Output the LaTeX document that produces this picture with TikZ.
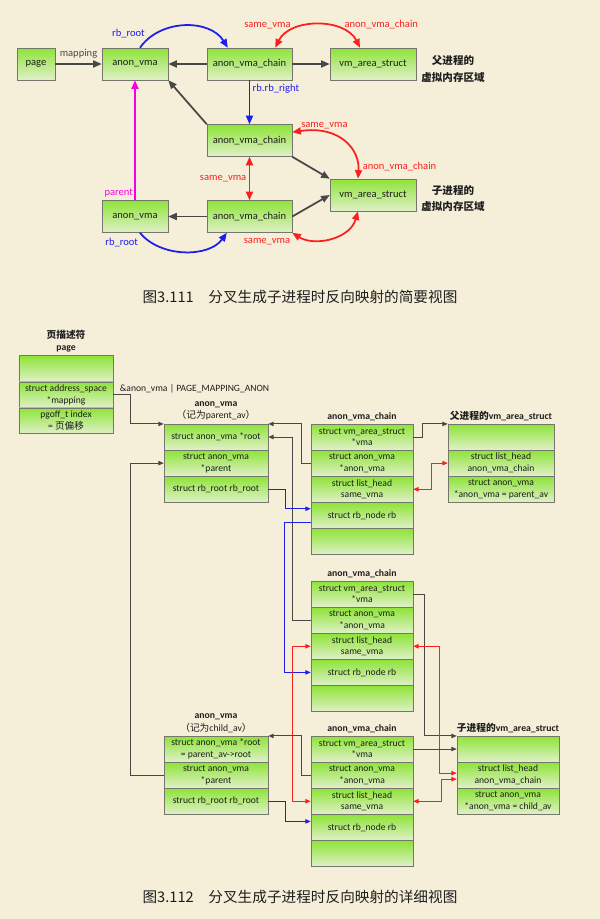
\documentclass[tikz,border=0pt]{standalone}
\usepackage{fontspec}
\setmainfont{Carlito}
\newfontfamily\cjk{Noto Sans CJK SC}
\usetikzlibrary{arrows.meta,positioning}
\definecolor{paper}{RGB}{245,239,217}
\definecolor{gtop}{RGB}{142,228,56}
\definecolor{gbot}{RGB}{224,240,200}
\definecolor{frame}{RGB}{118,118,108}
\definecolor{ink}{RGB}{72,72,72}
\definecolor{txt}{RGB}{30,30,30}
\definecolor{lblue}{RGB}{30,30,235}
\definecolor{lred}{RGB}{250,32,32}
\definecolor{lmag}{RGB}{245,0,225}
\tikzset{
  blk/.style={draw=frame,top color=gtop,bottom color=gbot,text=txt,align=center,font=\fontsize{9}{11}\selectfont,minimum height=9.6mm,inner sep=1pt},
  fld/.style={draw=frame,top color=gtop,bottom color=gbot,text=txt,align=center,font=\fontsize{8.2}{10}\selectfont,minimum width=30.6mm,minimum height=7.7mm,inner sep=0pt},
  ttl/.style={align=center,text=txt,font=\fontsize{8.3}{10.5}\selectfont\bfseries,inner sep=1pt},
  cn/.style={align=center,text=txt,font=\cjk\bfseries\fontsize{9}{14.5}\selectfont},
  capt/.style={text=txt,font=\cjk\fontsize{12.5}{15}\selectfont},
  lbl/.style={font=\fontsize{9}{11}\selectfont,inner sep=1pt},
  arr/.style={color=ink,line width=1.5pt,-{Triangle[length=2.6mm,width=2.1mm]}},
  barr/.style={arr,color=lblue},
  marr/.style={arr,color=lmag},
  rarr/.style={arr,color=lred,{Triangle[length=2.6mm,width=2.1mm]}-{Triangle[length=2.6mm,width=2.1mm]}},
  tarr/.style={color=ink,line width=0.8pt,-{Triangle[length=1.6mm,width=1.3mm]}},
  btarr/.style={tarr,color=lblue,line width=0.9pt},
  rtarr/.style={tarr,color=lred,{Triangle[length=1.6mm,width=1.3mm]}-{Triangle[length=1.6mm,width=1.3mm]}}
}
\begin{document}
\begin{tikzpicture}[x=0.3mm,y=-0.3mm]
\fill[paper] (0,0) rectangle (600,919);
\node[blk,minimum width=11.4mm] (pg) at (36,64) {page};
\node[blk,minimum width=19.8mm] (av) at (135,64) {anon\_vma};
\node[blk,minimum width=25.5mm] (avc) at (249.5,64) {anon\_vma\_chain};
\node[blk,minimum width=25.8mm] (vma) at (373,64) {vm\_area\_struct};
\node[cn] (pcn) at (453,68.5) {父进程的\\虚拟内存区域};
\node[blk,minimum width=25.5mm] (avc2) at (249.5,140.5) {anon\_vma\_chain};
\node[blk,minimum width=25.8mm] (cvma) at (373,195) {vm\_area\_struct};
\node[cn] (ccn) at (453,198.5) {子进程的\\虚拟内存区域};
\node[blk,minimum width=19.8mm] (cav) at (135,216.5) {anon\_vma};
\node[blk,minimum width=25.5mm] (cavc) at (249.5,216.5) {anon\_vma\_chain};
\draw[arr] (pg) -- node[lbl,above=3.5pt]{mapping} (av);
\draw[arr] (avc) -- (av);
\draw[arr] (avc) -- (vma);
\draw[barr] ([xshift=1.5mm]av.north) .. controls +(20,-29) and +(-18,-29) .. node[lbl,pos=0.1,anchor=south east]{rb\_root} ([xshift=-6.5mm]avc.north);
\draw[rarr] ([xshift=7.7mm]avc.north) .. controls +(15,-30) and +(-15,-30) .. node[lbl,pos=0.25,anchor=south east]{same\_vma} node[lbl,pos=0.75,anchor=south west]{anon\_vma\_chain} ([xshift=-3.9mm]vma.north);
\draw[barr] (avc.south) -- node[lbl,pos=0.2,right=1pt]{rb.rb\_right} (avc2.north);
\draw[arr] (avc2.north west) -- (av.south east);
\draw[arr] (avc2.south east) -- (cvma.north west);
\draw[rarr] ([yshift=2.5mm]avc2.east) .. controls +(48,-7) and +(2,-29) .. node[lbl,pos=0.05,anchor=south west]{same\_vma} node[lbl,pos=0.85,anchor=west,xshift=1mm]{anon\_vma\_chain} ([xshift=-4.5mm]cvma.north);
\draw[rarr] (avc2.south) -- node[lbl,left=1pt]{same\_vma} (cavc.north);
\draw[marr] (cav.north) -- node[lbl,pos=0,anchor=south east,yshift=1pt]{parent} (av.south);
\draw[arr] (cavc) -- (cav);
\draw[arr] (cavc.east) -- (cvma.west);
\draw[barr] ([xshift=1.5mm]cav.south) .. controls +(20,25) and +(-18,25) .. node[lbl,pos=0,anchor=north east,yshift=-1mm]{rb\_root} ([xshift=-6.8mm]cavc.south);
\draw[rarr] (cavc.south east) .. controls +(22,14) and +(-8,28) .. node[lbl,pos=0,anchor=north east,yshift=-1mm]{same\_vma} ([xshift=-4.5mm]cvma.south);
\node[capt] (cap1) at (300,297) {图3.111\hspace{1em}分叉生成子进程时反向映射的简要视图};
\node[fld,minimum width=28.2mm] (pg1) at (66,368.5) {};
\node[fld,minimum width=28.2mm,below=0pt of pg1] (pg2) {struct address\_space\\*mapping};
\node[fld,minimum width=28.2mm,below=0pt of pg2] (pg3) {pgoff\_t index\\= {\cjk 页偏移}};
\node[ttl,above=0.6mm of pg1] (pgt) {{\cjk 页描述符}\\page};
\node[fld,minimum width=31.2mm] (pa1) at (216,437) {struct anon\_vma *root};
\node[fld,minimum width=31.2mm,below=0pt of pa1] (pa2) {struct anon\_vma\\*parent};
\node[fld,minimum width=31.2mm,below=0pt of pa2] (pa3) {struct rb\_root rb\_root};
\node[ttl,above=0.6mm of pa1] (pat) {anon\_vma\\\mdseries{\cjk （记为}parent\_av{\cjk ）}};
\node[fld] (c1a) at (362,437) {struct vm\_area\_struct\\*vma};
\node[fld,below=0pt of c1a] (c1b) {struct anon\_vma\\*anon\_vma};
\node[fld,below=0pt of c1b] (c1c) {struct list\_head\\same\_vma};
\node[fld,below=0pt of c1c] (c1d) {struct rb\_node rb};
\node[fld,below=0pt of c1d] (c1e) {};
\node[ttl,above=0.6mm of c1a] (c1t) {anon\_vma\_chain};
\node[fld,minimum width=31.8mm] (pv1) at (501,437) {};
\node[fld,minimum width=31.8mm,below=0pt of pv1] (pv2) {struct list\_head\\anon\_vma\_chain};
\node[fld,minimum width=31.8mm,below=0pt of pv2] (pv3) {struct anon\_vma\\*anon\_vma = parent\_av};
\node[ttl,above=0.6mm of pv1] (pvt) {{\cjk 父进程的}vm\_area\_struct};
\node[fld] (c2a) at (362,594) {struct vm\_area\_struct\\*vma};
\node[fld,below=0pt of c2a] (c2b) {struct anon\_vma\\*anon\_vma};
\node[fld,below=0pt of c2b] (c2c) {struct list\_head\\same\_vma};
\node[fld,below=0pt of c2c] (c2d) {struct rb\_node rb};
\node[fld,below=0pt of c2d] (c2e) {};
\node[ttl,above=0.6mm of c2a] (c2t) {anon\_vma\_chain};
\node[fld,minimum width=31.2mm] (ca1) at (216,749) {struct anon\_vma *root\\= parent\_av->root};
\node[fld,minimum width=31.2mm,below=0pt of ca1] (ca2) {struct anon\_vma\\*parent};
\node[fld,minimum width=31.2mm,below=0pt of ca2] (ca3) {struct rb\_root rb\_root};
\node[ttl,above=0.6mm of ca1] (cat) {anon\_vma\\\mdseries{\cjk （记为}child\_av{\cjk ）}};
\node[fld] (c3a) at (362,749) {struct vm\_area\_struct\\*vma};
\node[fld,below=0pt of c3a] (c3b) {struct anon\_vma\\*anon\_vma};
\node[fld,below=0pt of c3b] (c3c) {struct list\_head\\same\_vma};
\node[fld,below=0pt of c3c] (c3d) {struct rb\_node rb};
\node[fld,below=0pt of c3d] (c3e) {};
\node[ttl,above=0.6mm of c3a] (c3t) {anon\_vma\_chain};
\node[fld] (cv1) at (508,749) {};
\node[fld,below=0pt of cv1] (cv2) {struct list\_head\\anon\_vma\_chain};
\node[fld,below=0pt of cv2] (cv3) {struct anon\_vma\\*anon\_vma = child\_av};
\node[ttl,above=0.6mm of cv1] (cvt) {{\cjk 子进程的}vm\_area\_struct};
\draw[tarr] (pg2.east) -- node[lbl,pos=0,anchor=south west,xshift=1.5mm,font=\fontsize{8.2}{9}\selectfont,text=txt]{\&anon\_vma | PAGE\_MAPPING\_ANON} ++(17,0) |- (pa1.north west);
\draw[tarr] (c1a.east) -- ++(9,0) |- (pv1.north west);
\draw[rtarr] (c1c.east) -- ++(18,0) |- (pv2.west);
\draw[tarr] (c1b.west) -- ++(-9,0) |- (pa1.north east);
\draw[tarr] (c2b.west) -- ++(-18,0) |- (pa1.east);
\draw[btarr] (pa3.east) -- ++(17,0) |- ([yshift=2mm]c1d.west);
\draw[btarr] ([yshift=-2mm]c1d.west) -- ++(-26,0) |- (c2d.west);
\draw[tarr] (c2a.east) -- ++(11,0) |- (cv1.north west);
\draw[rtarr] (c2c.east) -- ++(26,0) |- ([yshift=0.6mm]cv2.west);
\draw[rtarr] (c3c.east) -- ++(28,0) |- ([yshift=-1.2mm]cv2.west);
\draw[rtarr] (c2c.west) -- ++(-18,0) |- (c3c.west);
\draw[tarr] (c3b.west) -- ++(-9,0) |- (ca1.north east);
\draw[tarr] (ca2.west) -- ++(-33,0) |- (pa2.west);
\draw[btarr] (ca3.east) -- ++(17,0) |- ([yshift=1.8mm]c3d.west);
\draw[tarr] (c3a.east) -- (cv1.west);
\node[capt] (cap2) at (300,897) {图3.112\hspace{1em}分叉生成子进程时反向映射的详细视图};
\end{tikzpicture}
\end{document}
